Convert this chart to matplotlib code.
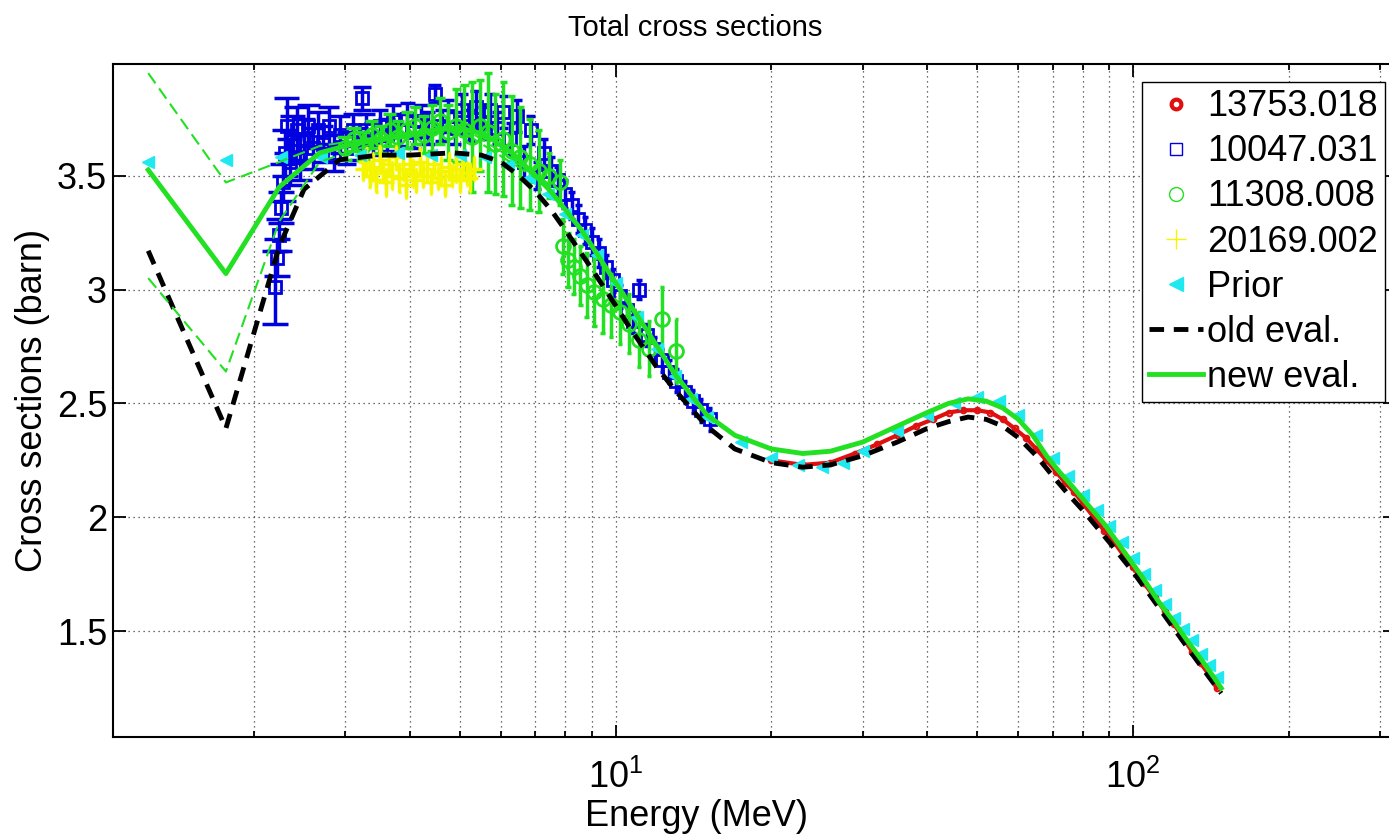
import numpy as np
import matplotlib
matplotlib.use("Agg")
import matplotlib.pyplot as plt
from matplotlib.lines import Line2D
from matplotlib.ticker import LogLocator, FixedLocator, NullFormatter

plt.rcParams.update({
    "font.family": "Liberation Sans",
    "mathtext.default": "regular",
    "font.size": 26,
})

# ── colours (MATLAB-like) ─────────────────────────────────────────────────────
RED = "#e01010"
BLUE = "#0000e0"
GREEN = "#22e022"
YELLOW = "#f5f500"
CYAN = "#20e8f0"

# ── evaluations ───────────────────────────────────────────────────────────────
E_new = [1.25, 1.766, 2.24, 2.68, 3.0, 3.5, 4.0, 4.5, 5.0, 5.6,
         6.3, 7.0, 7.5, 8.6, 10.0, 11.5, 13.0, 15.0, 17.0, 20.0,
         23.0, 26.0, 30.0, 35.0, 40.0, 44.0, 48.0, 52.0, 56.0, 60.0,
         64.0, 68.0, 72.0, 76.0, 80.0, 88.0, 96.0, 104.0, 112.0, 120.0,
         128.0, 136.0, 144.0, 148.0]
xs_new = [3.525, 3.07, 3.45, 3.60, 3.63, 3.66, 3.68, 3.70, 3.71, 3.68,
          3.60, 3.50, 3.43, 3.26, 3.03, 2.82, 2.63, 2.45, 2.36, 2.30,
          2.28, 2.29, 2.33, 2.40, 2.46, 2.50, 2.52, 2.51, 2.48, 2.43,
          2.36, 2.27, 2.20, 2.14, 2.08, 1.97, 1.85, 1.74, 1.63, 1.54,
          1.45, 1.37, 1.29, 1.25]

E_old = [1.25, 1.766, 2.24, 2.5, 2.93, 3.5, 4.0, 4.85, 5.5, 6.0,
         6.5, 7.0, 7.5, 8.0, 9.0, 10.0, 10.6, 12.0, 13.0, 15.0,
         17.0, 20.0, 23.0, 26.0, 30.0, 35.0, 40.0, 44.0, 48.0, 52.0,
         56.0, 60.0, 65.0, 70.0, 75.0, 80.0, 90.0, 100.0, 110.0, 120.0,
         130.0, 140.0, 148.0]
xs_old = [3.17, 2.39, 3.19, 3.44, 3.57, 3.59, 3.59, 3.60, 3.59, 3.56,
          3.50, 3.43, 3.35, 3.26, 3.09, 2.93, 2.84, 2.66, 2.56, 2.40,
          2.30, 2.24, 2.22, 2.23, 2.27, 2.33, 2.39, 2.42, 2.44, 2.43,
          2.40, 2.35, 2.27, 2.18, 2.10, 2.03, 1.89, 1.76, 1.63, 1.51,
          1.40, 1.30, 1.227]

# uncertainty band of the new evaluation (thin dashed, visible at low energy)
E_band = [1.25, 1.766, 2.24, 2.68, 3.5, 5.0, 7.0]
band_hi = [3.95, 3.47, 3.56, 3.63, 3.67, 3.72, 3.51]
band_lo = [3.05, 2.64, 3.30, 3.56, 3.65, 3.70, 3.49]

# ── prior ─────────────────────────────────────────────────────────────────────
E_prior = [1.25, 1.766, 2.26, 2.7, 3.2, 3.8, 4.4, 5.0, 5.6, 6.2,
           6.8, 7.4, 8.0, 8.6, 9.2, 10.0, 11.0, 12.0, 13.0, 14.0,
           15.0, 17.5, 20.0, 22.5, 25.0, 27.5, 30.0, 35.0, 40.0, 45.0,
           50.0, 55.0, 60.0, 65.0, 70.0, 75.0, 80.0, 85.0, 90.0, 95.0,
           100.0, 105.0, 110.0, 115.0, 120.0, 125.0, 130.0, 135.0, 140.0, 145.0]
xs_prior = [3.56, 3.57, 3.58, 3.58, 3.59, 3.60, 3.59, 3.59, 3.58, 3.55,
            3.49, 3.42, 3.33, 3.24, 3.15, 3.03, 2.88, 2.74, 2.62, 2.52,
            2.44, 2.33, 2.26, 2.23, 2.22, 2.24, 2.29, 2.38, 2.45, 2.50,
            2.53, 2.51, 2.45, 2.36, 2.26, 2.18, 2.10, 2.03, 1.96, 1.89,
            1.82, 1.75, 1.68, 1.62, 1.56, 1.51, 1.46, 1.40, 1.35, 1.30]

# ── EXFOR 13753.018 ───────────────────────────────────────────────────────────
E_13753 = [20, 23, 26, 29, 32, 35, 38, 41, 44, 47,
           50, 53, 56, 59, 62, 65, 68, 71, 74, 77,
           80, 84, 88, 92, 96, 100, 105, 110, 115, 120,
           125, 130, 135, 140, 145]
xs_13753 = [2.25, 2.23, 2.24, 2.28, 2.32, 2.36, 2.40, 2.43, 2.46, 2.47,
            2.47, 2.46, 2.43, 2.39, 2.35, 2.30, 2.25, 2.20, 2.15, 2.11,
            2.06, 2.00, 1.94, 1.89, 1.83, 1.78, 1.71, 1.65, 1.59, 1.53,
            1.47, 1.41, 1.36, 1.31, 1.25]

# ── EXFOR 10047.031 ───────────────────────────────────────────────────────────
E_10047 = [2.20, 2.22, 2.24, 2.26, 2.28, 2.30, 2.32, 2.35, 2.38, 2.42,
           2.46, 2.50, 2.55, 2.60, 2.66, 2.72, 2.79, 2.86, 2.94, 3.02,
           3.11, 3.20, 3.24, 3.30, 3.40, 3.50, 3.61, 3.72, 3.84, 3.96,
           4.08, 4.21, 4.34, 4.47, 4.61, 4.75, 4.90, 5.05, 5.21, 5.37,
           5.54, 5.71, 5.89, 6.07, 6.26, 6.45, 6.65, 6.85, 7.06, 7.28,
           7.50, 7.73, 7.97, 8.22, 8.47, 8.73, 9.00, 9.28, 9.57, 9.87,
           10.2, 10.5, 10.8, 11.1, 11.5, 11.9, 12.3, 12.7, 13.1, 13.6,
           14.1, 14.6, 15.2]
xs_10047 = [3.01, 3.14, 3.24, 3.36, 3.47, 3.60, 3.72, 3.56, 3.66, 3.70,
            3.58, 3.66, 3.72, 3.62, 3.70, 3.64, 3.72, 3.60, 3.68, 3.62,
            3.70, 3.64, 3.84, 3.70, 3.66, 3.72, 3.68, 3.74, 3.70, 3.75,
            3.69, 3.74, 3.71, 3.86, 3.72, 3.76, 3.71, 3.79, 3.72, 3.80,
            3.73, 3.79, 3.71, 3.78, 3.66, 3.76, 3.56, 3.70, 3.50, 3.60,
            3.52, 3.48, 3.42, 3.37, 3.31, 3.26, 3.21, 3.16, 3.10, 3.04,
            2.97, 2.91, 2.86, 3.00, 2.80, 2.74, 2.69, 2.64, 2.60, 2.55,
            2.51, 2.47, 2.43]
err_10047 = [0.16, 0.08, 0.07, 0.07, 0.08, 0.10, 0.12, 0.10, 0.10, 0.10,
             0.10, 0.09, 0.09, 0.09, 0.08, 0.08, 0.08, 0.08, 0.08, 0.07,
             0.07, 0.07, 0.05, 0.07, 0.07, 0.07, 0.07, 0.07, 0.07, 0.07,
             0.07, 0.07, 0.07, 0.04, 0.07, 0.07, 0.07, 0.07, 0.07, 0.07,
             0.07, 0.07, 0.07, 0.07, 0.07, 0.07, 0.07, 0.06, 0.06, 0.06,
             0.06, 0.06, 0.06, 0.06, 0.06, 0.06, 0.06, 0.06, 0.05, 0.05,
             0.05, 0.05, 0.05, 0.04, 0.05, 0.05, 0.05, 0.05, 0.05, 0.05,
             0.05, 0.05, 0.05]

# ── EXFOR 11308.008 ───────────────────────────────────────────────────────────
E_11308 = [3.00, 3.12, 3.25, 3.38, 3.52, 3.66, 3.80, 3.95, 4.10, 4.26,
           4.42, 4.58, 4.75, 4.92, 5.10, 5.28, 5.47, 5.66, 5.86, 6.07,
           6.30, 6.55, 6.82, 7.10, 7.45, 7.80, 7.90, 8.10, 8.30, 8.55,
           8.80, 9.10, 9.45, 9.80, 10.2, 10.6, 11.1, 11.6, 12.3, 13.1]
xs_11308 = [3.62, 3.66, 3.63, 3.68, 3.66, 3.70, 3.67, 3.70, 3.72, 3.68,
            3.71, 3.74, 3.69, 3.72, 3.70, 3.67, 3.72, 3.69, 3.64, 3.66,
            3.61, 3.58, 3.55, 3.52, 3.50, 3.47, 3.19, 3.13, 3.10, 3.06,
            3.02, 2.99, 2.96, 2.93, 2.90, 2.85, 2.78, 2.74, 2.87, 2.73]
err_11308 = [0.05, 0.05, 0.06, 0.06, 0.06, 0.07, 0.07, 0.08, 0.08, 0.08,
             0.10, 0.10, 0.12, 0.16, 0.20, 0.24, 0.20, 0.26, 0.22, 0.25,
             0.24, 0.22, 0.20, 0.18, 0.10, 0.10, 0.12, 0.12, 0.12, 0.13,
             0.14, 0.15, 0.15, 0.14, 0.14, 0.13, 0.12, 0.12, 0.14, 0.14]

# ── EXFOR 20169.002 ───────────────────────────────────────────────────────────
E_20169 = [3.25, 3.30, 3.35, 3.40, 3.45, 3.50, 3.55, 3.60, 3.65, 3.70,
           3.76, 3.82, 3.88, 3.94, 4.00, 4.06, 4.12, 4.18, 4.25, 4.32,
           4.39, 4.46, 4.53, 4.60, 4.68, 4.76, 4.84, 4.92, 5.00, 5.08,
           5.16, 5.24, 5.32]
xs_20169 = [3.53, 3.56, 3.50, 3.54, 3.48, 3.57, 3.52, 3.47, 3.55, 3.50,
            3.58, 3.49, 3.53, 3.46, 3.55, 3.51, 3.48, 3.56, 3.50, 3.53,
            3.47, 3.55, 3.49, 3.52, 3.46, 3.54, 3.50, 3.53, 3.48, 3.55,
            3.51, 3.49, 3.53]
err_20169 = [0.05, 0.06, 0.05, 0.06, 0.05, 0.06, 0.05, 0.06, 0.05, 0.06,
             0.05, 0.06, 0.05, 0.06, 0.05, 0.06, 0.05, 0.06, 0.05, 0.06,
             0.05, 0.06, 0.05, 0.06, 0.05, 0.06, 0.05, 0.06, 0.05, 0.06,
             0.05, 0.06, 0.05]


def matlab_errorbar(ax, x, y, e, color, lw):
    # vertical bars + caps whose width is 1/100 of the x-range (as old MATLAB)
    x, y, e = np.asarray(x), np.asarray(y), np.asarray(e)
    tee = (x.max() - x.min()) / 100.0
    ax.vlines(x, y - e, y + e, color=color, lw=lw)
    ax.hlines(y - e, x - tee, x + tee, color=color, lw=lw)
    ax.hlines(y + e, x - tee, x + tee, color=color, lw=lw)


fig = plt.figure(figsize=(13.89, 8.39), dpi=100)
ax = fig.add_axes([0.0811, 0.1212, 0.9229, 0.8025])

# data sets
ax.plot(E_13753, xs_13753, "-", color=RED, lw=3, marker="o", ms=4,
        mfc="none", mec=RED, mew=1.5)

matlab_errorbar(ax, E_10047, xs_10047, err_10047, BLUE, 2.5)
ax.plot(E_10047, xs_10047, ls="none", marker="s", ms=9, mfc="none",
        mec=BLUE, mew=2.0)

matlab_errorbar(ax, E_11308, xs_11308, err_11308, GREEN, 2.5)
ax.plot(E_11308, xs_11308, ls="none", marker="o", ms=10, mfc="none",
        mec=GREEN, mew=2.0)

matlab_errorbar(ax, E_20169, xs_20169, err_20169, YELLOW, 2.5)
ax.plot(E_20169, xs_20169, ls="none", marker="+", ms=12, mec=YELLOW, mew=2.5)

ax.plot(E_prior, xs_prior, ls="none", marker="<", ms=9, mfc=CYAN, mec=CYAN)

ax.plot(E_old, xs_old, "--", color="k", lw=3.5, dashes=(3, 2))
ax.plot(E_new, xs_new, "-", color=GREEN, lw=3.5)
ax.plot(E_band, band_hi, "--", color=GREEN, lw=1.5, dashes=(6, 3))
ax.plot(E_band, band_lo, "--", color=GREEN, lw=1.5, dashes=(6, 3))

# axes
ax.set_xscale("log")
ax.set_xlim(1.067, 320)
ax.set_ylim(1.034, 3.99)
ax.yaxis.set_major_locator(FixedLocator([1.5, 2, 2.5, 3, 3.5]))
ax.set_yticklabels(["1.5", "2", "2.5", "3", "3.5"])
ax.xaxis.set_major_locator(LogLocator(base=10, numticks=10))
ax.xaxis.set_minor_locator(LogLocator(base=10, subs=np.arange(2, 10), numticks=10))
ax.xaxis.set_minor_formatter(NullFormatter())

ax.tick_params(which="both", direction="in", top=True, right=True, width=1.3,
               labelsize=26)
ax.tick_params(which="major", length=9)
ax.tick_params(which="minor", length=4.5)
ax.tick_params(axis="y", pad=4)
ax.tick_params(axis="x", pad=16)
for s in ax.spines.values():
    s.set_linewidth(1.5)

ax.grid(True, which="major", axis="both", ls=(0, (1, 3)), color="0.25", lw=0.9)
ax.grid(True, which="minor", axis="x", ls=(0, (1, 3)), color="0.25", lw=0.9)

ax.set_xlabel("Energy (MeV)", fontsize=26)
ax.xaxis.set_label_coords((697 - 112.7) / 1281.9, (40 - 101.7) / 673.3)
ax.set_ylabel("Cross sections (barn)", fontsize=26, labelpad=5)
fig.text(695 / 1389, 1 - 28 / 839, "Total cross sections", fontsize=21,
         ha="center", va="center")

handles = [
    Line2D([], [], ls="none", marker="o", ms=7, mfc="white", mec=RED, mew=3),
    Line2D([], [], ls="none", marker="s", ms=9, mfc="none", mec=BLUE, mew=1),
    Line2D([], [], ls="none", marker="o", ms=10, mfc="none", mec=GREEN, mew=1),
    Line2D([], [], ls="none", marker="+", ms=14, mec=YELLOW, mew=1),
    Line2D([], [], ls="none", marker="<", ms=10, mfc=CYAN, mec=CYAN),
    Line2D([], [], ls="--", color="k", lw=3.5, dashes=(3, 2)),
    Line2D([], [], ls="-", color=GREEN, lw=3.5),
]
labels = ["13753.018", "10047.031", "11308.008", "20169.002", "Prior",
          "old eval.", "new eval."]
leg = ax.legend(handles, labels, loc="upper right",
                bbox_to_anchor=(1385 / 1389, 1 - 82 / 839),
                bbox_transform=fig.transFigure, borderaxespad=0,
                fontsize=26, fancybox=False, framealpha=1, edgecolor="k",
                handlelength=1.5, handletextpad=0.1, labelspacing=0.28,
                borderpad=0.2)
leg.get_frame().set_linewidth(1.0)

fig.savefig("out.png", dpi=100)
